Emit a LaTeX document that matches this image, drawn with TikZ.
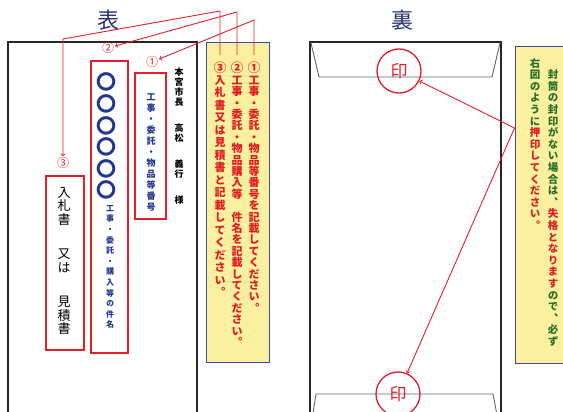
\documentclass[tikz,border=0pt]{standalone}
\usepackage{fontspec}
\setmainfont{Noto Sans CJK JP}[RawFeature=+vert]
\usepackage{tikz}
\usetikzlibrary{arrows}

\definecolor{sealred}{RGB}{228,30,40}
\definecolor{memoyellow}{RGB}{250,240,160}
\definecolor{memoblue}{RGB}{60,75,165}
\definecolor{inkblue}{RGB}{35,55,140}
\definecolor{titlenavy}{RGB}{45,50,110}
\definecolor{memogreen}{RGB}{40,110,40}
\definecolor{memored}{RGB}{225,25,30}

% vertical text: #1 pitch, #2 pitch of a middle dot, #3 pitch of a full-width space
\makeatletter
\def\tate@sp{　}
\def\tate@dot{・}
\newcommand\tate@cell[1]{\vbox to #1{\vss\hbox to 1.1em{\hss\vrule height .88em depth .12em width 0pt\tate@c\hss}\vss}}
\newcommand\tate[4]{\vbox{\offinterlineskip
  \@tfor\tate@c:=#4\do{%
    \expandafter\ifcat\expandafter\noexpand\tate@c\relax \tate@c
    \else\ifx\tate@c\tate@sp \vbox to #3{}%
    \else\ifx\tate@c\tate@dot \tate@cell{#2}%
    \else \tate@cell{#1}\fi\fi\fi}}}
\makeatother
\newcommand\tRed{\color{memored}}
\newcommand\tGreen{\color{memogreen}}

\tikzstyle{title} = [font=\fontsize{22}{22}\selectfont, text=titlenavy]
\tikzstyle{envelope} = [draw=black!85, line width=1.1pt]
\tikzstyle{flap} = [draw=black!60, line width=0.9pt]
\tikzstyle{memo} = [draw=memoblue, fill=memoyellow, line width=1pt]
\tikzstyle{redbox} = [draw=sealred, line width=1.2pt]
\tikzstyle{num} = [text=sealred, font=\fontsize{12}{12}\selectfont, inner sep=1pt]
\tikzstyle{memonum} = [text=memored, font=\bfseries\fontsize{12.5}{12.5}\selectfont, inner sep=1pt]
\tikzstyle{leader} = [draw=sealred, line width=0.9pt]
\tikzstyle{seal} = [circle, draw=sealred, line width=1.3pt, minimum size=44pt, text=sealred, font=\fontsize{17}{17}\selectfont]
\tikzstyle{col} = [anchor=north, inner sep=0pt]

\begin{document}
\begin{tikzpicture}[x=1pt,y=-1pt]
\useasboundingbox (0,0) rectangle (563,412);
% front
\node[title] (omote) at (108,20) {表};
\draw[envelope] (8,430) -- (8,42) -- (197,42) -- (197,430);
\node[redbox, minimum width=31pt, minimum height=146pt] (box1) at (150.5,146) {};
\node[redbox, minimum width=37pt, minimum height=292pt] (box2) at (109.5,207) {};
\node[redbox, minimum width=38pt, minimum height=174pt] (box3) at (65,263) {};
\node[num] (lab1) at (152,62) {①};
\node[num] (lab2) at (108,48) {②};
\node[num] (lab3) at (63,163) {③};
\node[col, font=\bfseries\fontsize{9}{9}\selectfont] (mayor) at (179,67) {\tate{10pt}{10pt}{16pt}{本宮市長　高松　義行　様}};
\node[col, text=inkblue, font=\bfseries\fontsize{9}{9}\selectfont] (bango) at (151,91.5) {\tate{11pt}{11pt}{11pt}{工事・委託・物品等番号}};
\node[col, text=inkblue, font=\bfseries\fontsize{20}{20}\selectfont] (maru) at (106,71.2) {\tate{21.6pt}{21.6pt}{21.6pt}{〇〇〇〇〇〇}};
\node[col, text=inkblue, font=\bfseries\fontsize{8}{8}\selectfont] (kenmei) at (110,202.7) {\tate{10.6pt}{10.6pt}{10.6pt}{工事・委託・購入等の件名}};
\node[col, font=\fontsize{13}{13}\selectfont] (nyusatsu) at (64,185.25) {\tate{13.5pt}{13.5pt}{21pt}{入札書　又は　見積書}};

% memo for the front
\node[memo, minimum width=63pt, minimum height=319pt] (memoL) at (237.5,202.5) {};
\node[memonum] (m1) at (254,68) {①};
\node[memonum] (m2) at (237,68) {②};
\node[memonum] (m3) at (220,68) {③};
\node[col, text=memored, font=\bfseries\fontsize{11}{11}\selectfont] (c1) at (254,74.3) {\tate{11.4pt}{11.4pt}{11.4pt}{工事・委託・物品等番号を記載してください。}};
\node[col, text=memored, font=\bfseries\fontsize{11}{11}\selectfont] (c2) at (237,74.3) {\tate{11.4pt}{11.4pt}{11.4pt}{工事・委託・物品購入等　件名を記載してください。}};
\node[col, text=memored, font=\bfseries\fontsize{11}{11}\selectfont] (c3) at (220,73.8) {\tate{12.5pt}{12.5pt}{12.5pt}{入札書又は見積書と記載してください。}};
\coordinate (k1) at (254,20);
\coordinate (k2) at (237,12);
\coordinate (k3) at (220,11);
\coordinate (b3) at (63,39);
\draw[leader,->] ([yshift=6pt]m1.north) -- (k1) -- (lab1);
\draw[leader,->] ([yshift=6pt]m2.north) -- (k2) -- (lab2);
\draw[leader,->] ([yshift=6pt]m3.north) -- (k3) -- (b3) -- (lab3);

% back
\node[title] (ura) at (402,20) {裏};
\draw[envelope] (310,430) -- (310,42) -- (501,42) -- (501,430);
\draw[line width=1.8pt, black!85] (310,42) -- (501,42);
\draw[flap] (311,43) -- (319,77) -- (492,77) -- (500,43);
\draw[flap] (312,420) -- (316,394) -- (493,394) -- (498,420);
\node[seal] (sealtop) at (399,71) {印};
\node[seal] (sealbot) at (398,394) {印};

% memo for the back
\node[memo, minimum width=62pt, minimum height=316pt] (memoR) at (546,205) {};
\node[col, text=memogreen, font=\bfseries\fontsize{10.5}{10.5}\selectfont] (noteA) at (553,68.8) {\tate{11.6pt}{11.6pt}{11.6pt}{封筒の封印がない場合は、\tRed 失格となります\tGreen ので、必ず}};
\node[col, text=memogreen, font=\bfseries\fontsize{10.5}{10.5}\selectfont] (noteB) at (535,57.2) {\tate{11.6pt}{11.6pt}{11.6pt}{右図のように\tRed 押印してください。}};
\coordinate (fork) at (memoR.west |- 0,128);
\draw[leader,->] (fork) -- (sealtop);
\draw[leader,->] (fork) -- (sealbot);
\end{tikzpicture}
\end{document}
